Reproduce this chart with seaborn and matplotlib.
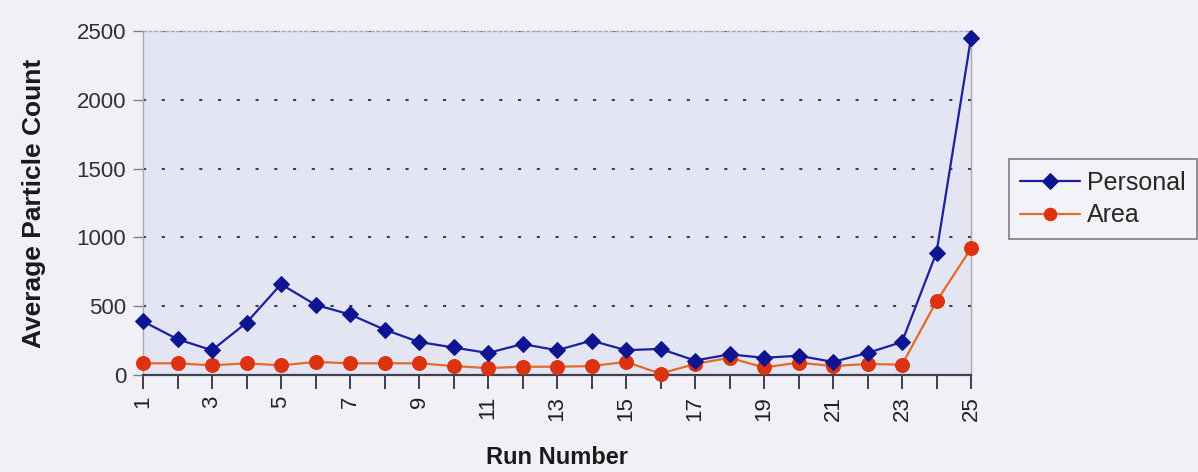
import matplotlib
matplotlib.use("Agg")
import matplotlib.pyplot as plt
import seaborn as sns
import pandas as pd

runs = list(range(1, 26))
personal = [390, 260, 180, 380, 660, 510, 440, 330, 240, 200, 160, 225, 180, 250, 180,
            190, 105, 150, 125, 140, 95, 160, 240, 890, 2450]
area = [85, 85, 70, 85, 70, 95, 85, 85, 85, 65, 50, 60, 60, 65, 95,
        10, 80, 125, 55, 90, 65, 80, 75, 535, 920]
x_tick_labels = [str(r) for r in range(1, 26, 2)]
y_ticks = [0, 500, 1000, 1500, 2000, 2500]

sns.set_style("white")
plt.rcParams['font.family'] = ['Liberation Sans', 'DejaVu Sans']

df = pd.DataFrame({
    "Run": runs * 2,
    "Count": personal + area,
    "Series": ["Personal"] * 25 + ["Area"] * 25,
})

fig = plt.figure(figsize=(11.98, 4.72), dpi=100)
fig.patch.set_facecolor("#f1f0f6")
ax = fig.add_axes([143 / 1198, 1 - 375 / 472, (971 - 143) / 1198, (375 - 31) / 472])
ax.set_facecolor("#e4e5f2")

sns.lineplot(data=df[df.Series == "Personal"], x="Run", y="Count", ax=ax,
             color="#1c1fa0", marker="D", markersize=8.5, markerfacecolor="#0f1590",
             markeredgecolor="#0f1590", linewidth=1.6, clip_on=False, label="Personal",
             zorder=4)
sns.lineplot(data=df[df.Series == "Area"], x="Run", y="Count", ax=ax,
             color="#e46a2a", marker="o", markersize=10, markerfacecolor="#dc3210",
             markeredgecolor="#dc3210", linewidth=1.6, clip_on=False, label="Area",
             zorder=3)

ax.set_xlim(1, 25)
ax.set_ylim(0, 2500)
ax.set_xticks(runs)
ax.set_xticklabels([str(r) if str(r) in x_tick_labels else "" for r in runs], rotation=90)
ax.set_yticks(y_ticks)
ax.set_yticklabels([str(v) for v in y_ticks])
ax.tick_params(axis="x", direction="out", length=10, width=1.3, color="#303040",
               labelsize=16, labelcolor="#202020", pad=5, bottom=True)
ax.tick_params(axis="y", direction="out", length=7, width=1.0, color="#808088",
               labelsize=16, labelcolor="#303030", pad=5, left=True)

ax.yaxis.grid(True, linestyle=(0, (1.5, 7.5)), color="#404048", linewidth=1.5)
ax.set_axisbelow(True)
for s in ["left", "right", "top"]:
    ax.spines[s].set_color("#a8a8b4")
    ax.spines[s].set_linewidth(1.0)
ax.spines["top"].set_linestyle((0, (2, 2)))
ax.spines["bottom"].set_color("#404050")
ax.spines["bottom"].set_linewidth(1.6)

ax.set_xlabel("Run Number", fontsize=17, fontweight="bold", color="#1a1a1a", labelpad=18)
ax.set_ylabel("Average Particle Count", fontsize=19, fontweight="bold", color="#1a1a1a",
              labelpad=22)

handles, labels = ax.get_legend_handles_labels()
leg = ax.legend(handles, labels, loc="center", bbox_to_anchor=(1103 / 1198, 1 - 199 / 472),
                bbox_transform=fig.transFigure, frameon=True, fancybox=False,
                fontsize=18, handlelength=2.4, handletextpad=0.3, borderpad=0.45,
                labelspacing=0.35, markerscale=0.9)
leg.get_frame().set_edgecolor("#606068")
leg.get_frame().set_facecolor("#f4f3f8")
leg.get_frame().set_linewidth(1.2)

fig.savefig("out.png", dpi=100, facecolor=fig.get_facecolor())
